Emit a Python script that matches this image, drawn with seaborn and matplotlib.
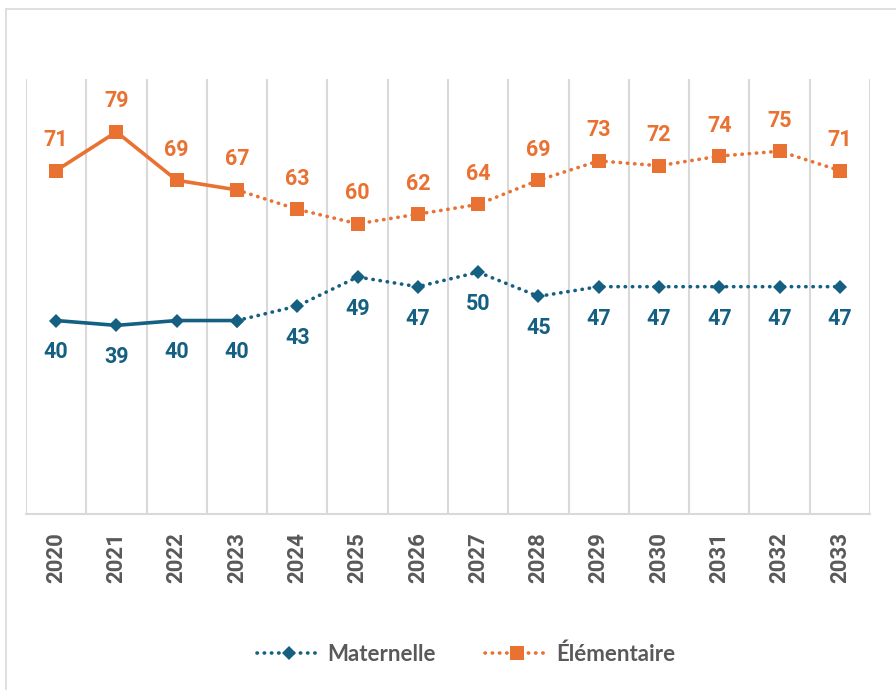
import numpy as np
import pandas as pd
import seaborn as sns
import matplotlib.pyplot as plt
from matplotlib.lines import Line2D
from matplotlib.patches import Rectangle

# data
years = ['2020', '2021', '2022', '2023', '2024', '2025', '2026',
         '2027', '2028', '2029', '2030', '2031', '2032', '2033']
maternelle = [40, 39, 40, 40, 43, 49, 47, 50, 45, 47, 47, 47, 47, 47]
elementaire = [71, 79, 69, 67, 63, 60, 62, 64, 69, 73, 72, 74, 75, 71]
last_actual = 3  # 2023 : solid before, dotted after

blue = '#156082'
orange = '#E97132'
grey_txt = '#595959'
grid_col = '#D9D9D9'

sns.set_theme(style='white')
plt.rcParams['font.family'] = ['Roboto', 'DejaVu Sans']

fig = plt.figure(figsize=(8.96, 6.90), dpi=100)
ax = fig.add_axes([0.029, 0.255, 0.942, 0.631])

# frame around the chart
fig.patches.append(Rectangle((6 / 896, -0.01), 1.0, 1 - 9 / 690 + 0.01,
                             transform=fig.transFigure, fill=False,
                             edgecolor=grid_col, linewidth=1.2))

df = pd.DataFrame({'x': np.arange(len(years)), 'mat': maternelle, 'elem': elementaire})
past = df[df.x <= last_actual]
future = df[df.x >= last_actual]
dots = (0, (0.1, 1.9))

for col, color, mk, ms in [('elem', orange, 's', 10), ('mat', blue, 'D', 7.5)]:
    sns.lineplot(data=past, x='x', y=col, color=color, linewidth=2.6,
                 marker=mk, markersize=ms, markeredgewidth=0, ax=ax)
    sns.lineplot(data=future, x='x', y=col, color=color, linewidth=2.6,
                 linestyle=dots, dash_capstyle='round',
                 marker=mk, markersize=ms, markeredgewidth=0, ax=ax)

# data labels
for i, v in enumerate(elementaire):
    ax.annotate(str(v), (i, v), xytext=(0, 14), textcoords='offset points',
                ha='center', va='bottom', color=orange, fontsize=15.5, fontweight='bold')
for i, v in enumerate(maternelle):
    ax.annotate(str(v), (i, v), xytext=(0, -15), textcoords='offset points',
                ha='center', va='top', color=blue, fontsize=15.5, fontweight='bold')

ax.set_xlim(-0.5, len(years) - 0.5)
ax.set_ylim(0, 90)
ax.set_xticks(df.x)
ax.set_xticklabels(years, rotation=90, fontsize=16, fontweight='bold', color=grey_txt)
ax.set_xticks(np.arange(len(years) + 1) - 0.5, minor=True)
ax.tick_params(axis='x', which='both', length=0, pad=13)
ax.set_yticks([])
ax.grid(axis='x', which='minor', color=grid_col, linewidth=1.5)
ax.grid(axis='x', which='major', visible=False)
ax.set_xlabel('')
ax.set_ylabel('')
for s in ['top', 'left', 'right']:
    ax.spines[s].set_visible(False)
ax.spines['bottom'].set_color(grid_col)
ax.spines['bottom'].set_linewidth(1.5)

handles = [
    Line2D([], [], color=blue, linestyle=dots, linewidth=2.6,
           dash_capstyle='round', marker='D', markersize=7.5, markeredgewidth=0),
    Line2D([], [], color=orange, linestyle=dots, linewidth=2.6,
           dash_capstyle='round', marker='s', markersize=10, markeredgewidth=0),
]
leg = fig.legend(handles, ['Maternelle', 'Élémentaire'], loc='center',
                 bbox_to_anchor=(0.52, 0.052), ncol=2, frameon=False,
                 handlelength=2.9, columnspacing=2.2, handletextpad=0.3,
                 prop={'family': 'Lato', 'weight': 'bold', 'size': 16})
for t in leg.get_texts():
    t.set_color(grey_txt)

fig.savefig('out.png', dpi=100)
